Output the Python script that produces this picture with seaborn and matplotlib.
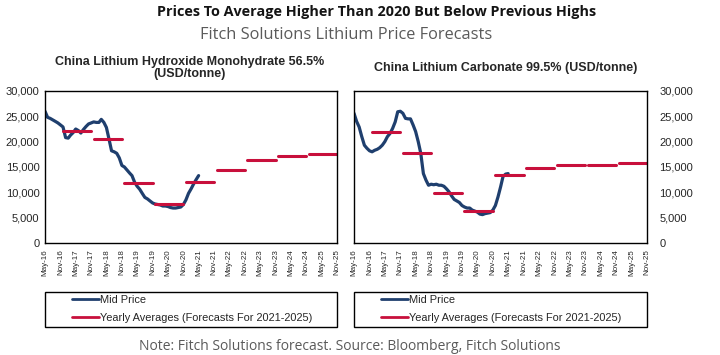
import numpy as np
import pandas as pd
import matplotlib
matplotlib.use("Agg")
import matplotlib.pyplot as plt
import seaborn as sns
from matplotlib.patches import Rectangle
from matplotlib.lines import Line2D

sns.set_theme(style="white")
plt.rcParams['font.family'] = ['Liberation Sans', 'DejaVu Sans']

# ---------------- data ----------------
start_date = "2016-05-01"
hydroxide_mid = [26000, 24800, 24600, 24300, 24000, 23700, 23300, 22900, 20800, 20700,
                 21300, 21800, 22500, 22200, 21700, 22400, 23000, 23500, 23700, 23900,
                 23800, 23800, 24400, 23800, 22800, 20500, 18200, 18000, 17700, 16800,
                 15300, 15000, 14400, 13800, 13300, 12000, 11200, 10600, 9800, 9000,
                 8700, 8300, 7900, 7700, 7600, 7500, 7300, 7300, 7200, 7000,
                 6900, 6900, 7000, 7100, 7600, 8500, 9800, 10700, 11600, 12500, 13300]
carbonate_mid = [25600, 24000, 22900, 21000, 19300, 18700, 18200, 18000, 18300, 18500,
                 18800, 19300, 20000, 21000, 21600, 22600, 23900, 25900, 26000, 25600,
                 24600, 24500, 24500, 23300, 22000, 20000, 17700, 13700, 12400, 11400,
                 11600, 11500, 11600, 11400, 11400, 11200, 10700, 10100, 9300, 8600,
                 8300, 8000, 7400, 7100, 6900, 6900, 6500, 6300, 6100, 5700,
                 5600, 5800, 5900, 6000, 6500, 7400, 9100, 11100, 13100, 13600, 13700]
years = [2017, 2018, 2019, 2020, 2021, 2022, 2023, 2024, 2025]
hydroxide_avg = [22100, 20600, 11900, 7600, 12100, 14500, 16300, 17100, 17600]
carbonate_avg = [22000, 17800, 9900, 6300, 13500, 14900, 15400, 15400, 15700]

title = "Prices To Average Higher Than 2020 But Below Previous Highs"
subtitle = "Fitch Solutions Lithium Price Forecasts"
footer = "Note: Fitch Solutions forecast. Source: Bloomberg, Fitch Solutions"
panel_titles = ["China Lithium Hydroxide Monohydrate 56.5%\n(USD/tonne)",
                "China Lithium Carbonate 99.5% (USD/tonne)"]
legend_labels = ["Mid Price", "Yearly Averages (Forecasts For 2021-2025)"]

BLUE = "#1f3f6e"
RED = "#c8103c"


def mid_frame(values):
    return pd.DataFrame({"date": pd.date_range(start_date, periods=len(values), freq="MS"),
                         "price": values})


def avg_frame(avgs):
    rows = []
    for y, v in zip(years, avgs):
        rows.append({"year": y, "date": pd.Timestamp(f"{y-1}-12-01"), "avg": v})
        rows.append({"year": y, "date": pd.Timestamp(f"{y}-11-01"), "avg": v})
    return pd.DataFrame(rows)


fig = plt.figure(figsize=(7.2, 3.55), dpi=100)
W, H = 720, 355
ax1 = fig.add_axes([45 / W, 1 - 243 / H, 292 / W, 152 / H])
ax2 = fig.add_axes([354 / W, 1 - 243 / H, 293 / W, 152 / H])

ticks = pd.date_range("2016-05-01", "2025-11-01", freq="6MS")

for ax, mid, avg in [(ax1, hydroxide_mid, hydroxide_avg),
                     (ax2, carbonate_mid, carbonate_avg)]:
    sns.lineplot(data=mid_frame(mid), x="date", y="price", color=BLUE, lw=2.3, ax=ax)
    sns.lineplot(data=avg_frame(avg), x="date", y="avg", units="year", estimator=None,
                 color=RED, lw=2.2, ax=ax)
    ax.set_xlim(pd.Timestamp("2016-05-01"), pd.Timestamp("2025-11-01"))
    ax.set_ylim(0, 30000)
    ax.set_xticks(ticks)
    ax.set_xticklabels([t.strftime("%b-%y") for t in ticks], rotation=90, fontsize=5.8)
    ax.set_yticks(range(0, 30001, 5000))
    ax.set_yticklabels([f"{v:,}" for v in range(0, 30001, 5000)], fontsize=8)
    ax.set_xlabel("")
    ax.set_ylabel("")
    for s in ax.spines.values():
        s.set_color("black")
        s.set_linewidth(1.0)
    ax.tick_params(axis="x", direction="out", length=3, width=0.8, color="black", pad=1.5)
    ax.tick_params(axis="y", length=0, pad=4)
    ax.grid(False)

ax2.yaxis.tick_right()
ax2.tick_params(axis="y", length=0, pad=9)

fig.text(190 / W, 1 - 56 / H, panel_titles[0], ha="center", va="top", fontsize=9,
         fontweight="bold", linespacing=1.05)
fig.text(506 / W, 1 - 62 / H, panel_titles[1], ha="center", va="top", fontsize=9,
         fontweight="bold")

fig.text(377 / W, 1 - 12 / H, title, ha="center", va="center", fontsize=10.4,
         fontweight="bold", family=["Open Sans", "DejaVu Sans"], color="#141414")
fig.text(346 / W, 1 - 35 / H, subtitle, ha="center", va="center", fontsize=11.8,
         family=["Open Sans", "DejaVu Sans"], color="#5a5a5a")
fig.text(350 / W, 1 - 346 / H, footer, ha="center", va="center", fontsize=10,
         family=["Open Sans", "DejaVu Sans"], color="#5a5a5a")

handles = [Line2D([], [], color=BLUE, lw=2), Line2D([], [], color=RED, lw=2)]
for x0, x1 in [(45, 337), (354, 647)]:
    fig.patches.append(Rectangle((x0 / W, 1 - 327 / H), (x1 - x0) / W, 35 / H,
                                 transform=fig.transFigure, fill=False,
                                 edgecolor="black", lw=1.0))
    fig.legend(handles, legend_labels, loc="upper left",
               bbox_to_anchor=((x0 + 27) / W, 1 - 295 / H), frameon=False,
               fontsize=7.9, handlelength=2.5, handletextpad=0.05, borderpad=0,
               borderaxespad=0, labelspacing=0.75)

fig.savefig("out.png", dpi=100)
